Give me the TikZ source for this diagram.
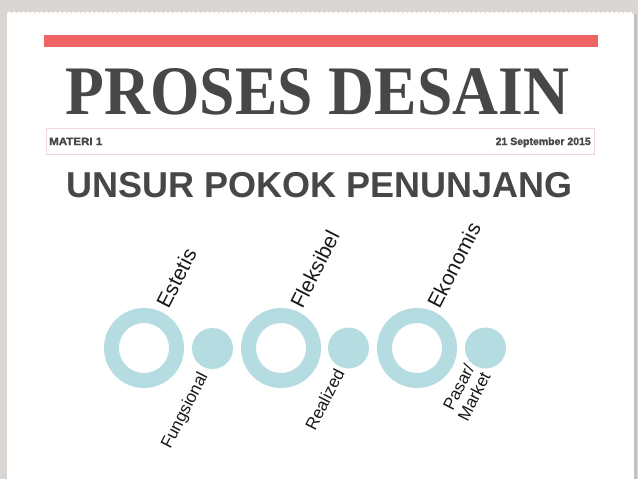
\documentclass[tikz,border=0pt]{standalone}
\usepackage{fontspec}
\usepackage{graphicx}
\setmainfont{Liberation Sans}
\newfontfamily\titlefont{Liberation Serif}
\newfontfamily\heavyfont[UprightFont={* Bold},FakeBold=1.6]{Liberation Sans}
\definecolor{bggray}{HTML}{DAD6D4}
\definecolor{edgegray}{HTML}{C4C0BE}
\definecolor{barred}{HTML}{EE6464}
\definecolor{darktext}{HTML}{474747}
\definecolor{boxpink}{HTML}{F2D6D4}
\definecolor{ringblue}{HTML}{B5DCE1}
\tikzset{
  ringnode/.style={circle, draw=ringblue, line width=15pt, minimum size=65pt, inner sep=0pt},
  discnode/.style={circle, fill=ringblue, minimum size=41pt, inner sep=0pt},
  toplabel/.style={rotate=63, anchor=south west, inner sep=0pt, font=\fontsize{21}{24}\selectfont, text=black!90},
  lowlabel/.style={rotate=63, anchor=north east, inner sep=0pt, align=right, font=\fontsize{17}{18}\selectfont, text=black!90},
}
\begin{document}
\begin{tikzpicture}[x=1pt,y=-1pt]
\useasboundingbox (0,0) rectangle (638,479);
% background and paper
\fill[bggray] (0,0) rectangle (638,479);
\fill[white] (7,14) rectangle (634,479);
\foreach \i in {0,...,135} \fill[white] (9.3+\i*4.6,14) circle (2.3pt);
\fill[edgegray] (634,14) rectangle (636.5,479);
% red bar
\fill[barred] (44,35) rectangle (598,47);
% title
\node[anchor=base, inner sep=0pt, text=darktext] (title) at (317.5,114)
  {\scalebox{0.915}[1]{\titlefont\bfseries\fontsize{69.5}{70}\selectfont PROSES DESAIN}};
% info box
\draw[boxpink, line width=1pt] (46,128) rectangle (594,154);
\node[anchor=base west, inner sep=0pt, text=darktext, font=\heavyfont\fontsize{10.5}{12}\selectfont] (materi) at (49,145) {\scalebox{1.1}[1]{MATERI 1}};
\node[anchor=base east, inner sep=0pt, text=darktext, font=\heavyfont\fontsize{10.5}{12}\selectfont] (date) at (591,145) {21 September 2015};
% subtitle
\node[anchor=base, inner sep=0pt, text=darktext, font=\bfseries\fontsize{36}{40}\selectfont] (sub) at (320,197) {UNSUR POKOK PENUNJANG};
% rings and discs
\node[ringnode] (r1) at (144,348) {};
\node[ringnode] (r2) at (281,348) {};
\node[ringnode] (r3) at (417,348) {};
\node[discnode] (d1) at (212.5,348.5) {};
\node[discnode] (d2) at (348.5,348) {};
\node[discnode] (d3) at (485.5,348) {};
% labels
\node[toplabel] (l1) at (169,310) {Estetis};
\node[toplabel] (l2) at (303,310) {Fleksibel};
\node[toplabel] (l3) at (440,310) {Ekonomis};
\node[lowlabel] (b1) at (197,370) {Fungsional};
\node[lowlabel] (b2) at (334,367) {Realized};
\node[lowlabel] (b3) at (464,362) {Pasar/\\Market};
\end{tikzpicture}
\end{document}
